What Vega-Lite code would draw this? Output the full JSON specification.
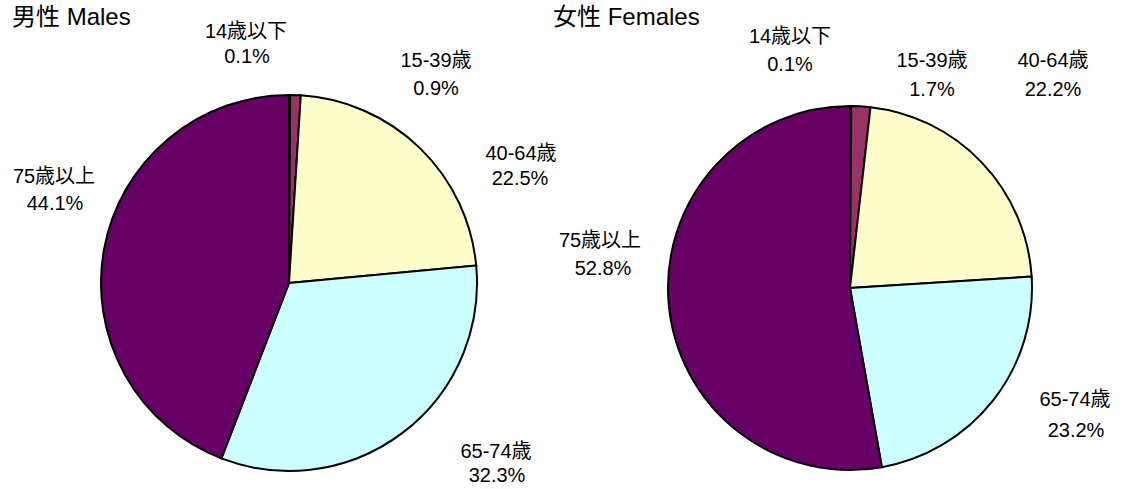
{
  "$schema": "https://vega.github.io/schema/vega-lite/v6.json",
  "padding": {"left": 0, "top": 6, "right": 0, "bottom": 0},
  "spacing": 0,
  "bounds": "flush",
  "background": "white",
  "config": {
    "view": {"stroke": null},
    "title": {"anchor": "start", "frame": "group", "fontSize": 24, "fontWeight": "normal", "font": "Liberation Sans, Noto Sans CJK JP", "color": "black"},
    "text": {"font": "Liberation Sans, Noto Sans CJK JP", "fontSize": 20, "align": "center", "baseline": "middle", "color": "black", "radius": 0}
  },
  "datasets": {
    "males": [
      {"age": "14歳以下", "share": 0.001},
      {"age": "15-39歳", "share": 0.009},
      {"age": "40-64歳", "share": 0.225},
      {"age": "65-74歳", "share": 0.323},
      {"age": "75歳以上", "share": 0.441}
    ],
    "females": [
      {"age": "14歳以下", "share": 0.001},
      {"age": "15-39歳", "share": 0.017},
      {"age": "40-64歳", "share": 0.222},
      {"age": "65-74歳", "share": 0.232},
      {"age": "75歳以上", "share": 0.528}
    ]
  },
  "hconcat": [
    {
      "width": 578,
      "height": 392,
      "title": {"text": "男性 Males", "dx": 12, "offset": -8.5},
      "data": {"name": "males"},
      "encoding": {
        "theta": {"field": "share", "type": "quantitative", "stack": true},
        "order": {"field": "age", "sort": "ascending"}
      },
      "layer": [
        {
          "mark": {"type": "arc", "outerRadius": 188, "stroke": "black", "strokeWidth": 2},
          "encoding": {
            "color": {"field": "age", "type": "nominal", "legend": null,
              "scale": {"domain": ["14歳以下", "15-39歳", "40-64歳", "65-74歳", "75歳以上"], "range": ["#9999FF", "#993366", "#FFFFCC", "#CCFFFF", "#660066"]}}
          }
        },
        {"mark": {"type": "text", "dx": -43, "dy": -251.5}, "encoding": {"text": {"condition": {"test": "datum.age === '14歳以下'", "field": "age", "type": "nominal"}, "value": ""}}},
        {"mark": {"type": "text", "dx": -42, "dy": -226}, "encoding": {"text": {"condition": {"test": "datum.age === '14歳以下'", "field": "share", "type": "quantitative", "format": ".1%"}, "value": ""}}},
        {"mark": {"type": "text", "dx": 147, "dy": -222}, "encoding": {"text": {"condition": {"test": "datum.age === '15-39歳'", "field": "age", "type": "nominal"}, "value": ""}}},
        {"mark": {"type": "text", "dx": 147, "dy": -194}, "encoding": {"text": {"condition": {"test": "datum.age === '15-39歳'", "field": "share", "type": "quantitative", "format": ".1%"}, "value": ""}}},
        {"mark": {"type": "text", "dx": 232, "dy": -129.5}, "encoding": {"text": {"condition": {"test": "datum.age === '40-64歳'", "field": "age", "type": "nominal"}, "value": ""}}},
        {"mark": {"type": "text", "dx": 231, "dy": -104.5}, "encoding": {"text": {"condition": {"test": "datum.age === '40-64歳'", "field": "share", "type": "quantitative", "format": ".1%"}, "value": ""}}},
        {"mark": {"type": "text", "dx": 207, "dy": 169}, "encoding": {"text": {"condition": {"test": "datum.age === '65-74歳'", "field": "age", "type": "nominal"}, "value": ""}}},
        {"mark": {"type": "text", "dx": 208, "dy": 193}, "encoding": {"text": {"condition": {"test": "datum.age === '65-74歳'", "field": "share", "type": "quantitative", "format": ".1%"}, "value": ""}}},
        {"mark": {"type": "text", "dx": -235, "dy": -106.5}, "encoding": {"text": {"condition": {"test": "datum.age === '75歳以上'", "field": "age", "type": "nominal"}, "value": ""}}},
        {"mark": {"type": "text", "dx": -234, "dy": -79}, "encoding": {"text": {"condition": {"test": "datum.age === '75歳以上'", "field": "share", "type": "quantitative", "format": ".1%"}, "value": ""}}}
      ]
    },
    {
      "width": 544,
      "height": 402,
      "title": {"text": "女性 Females", "dx": -25, "offset": -3.5},
      "data": {"name": "females"},
      "encoding": {
        "theta": {"field": "share", "type": "quantitative", "stack": true},
        "order": {"field": "age", "sort": "ascending"}
      },
      "layer": [
        {
          "mark": {"type": "arc", "outerRadius": 182, "stroke": "black", "strokeWidth": 2},
          "encoding": {
            "color": {"field": "age", "type": "nominal", "legend": null,
              "scale": {"domain": ["14歳以下", "15-39歳", "40-64歳", "65-74歳", "75歳以上"], "range": ["#9999FF", "#993366", "#FFFFCC", "#CCFFFF", "#660066"]}}
          }
        },
        {"mark": {"type": "text", "dx": -60, "dy": -251.5}, "encoding": {"text": {"condition": {"test": "datum.age === '14歳以下'", "field": "age", "type": "nominal"}, "value": ""}}},
        {"mark": {"type": "text", "dx": -60, "dy": -223}, "encoding": {"text": {"condition": {"test": "datum.age === '14歳以下'", "field": "share", "type": "quantitative", "format": ".1%"}, "value": ""}}},
        {"mark": {"type": "text", "dx": 82, "dy": -227}, "encoding": {"text": {"condition": {"test": "datum.age === '15-39歳'", "field": "age", "type": "nominal"}, "value": ""}}},
        {"mark": {"type": "text", "dx": 82, "dy": -198}, "encoding": {"text": {"condition": {"test": "datum.age === '15-39歳'", "field": "share", "type": "quantitative", "format": ".1%"}, "value": ""}}},
        {"mark": {"type": "text", "dx": 203, "dy": -227}, "encoding": {"text": {"condition": {"test": "datum.age === '40-64歳'", "field": "age", "type": "nominal"}, "value": ""}}},
        {"mark": {"type": "text", "dx": 203, "dy": -198}, "encoding": {"text": {"condition": {"test": "datum.age === '40-64歳'", "field": "share", "type": "quantitative", "format": ".1%"}, "value": ""}}},
        {"mark": {"type": "text", "dx": 225, "dy": 112}, "encoding": {"text": {"condition": {"test": "datum.age === '65-74歳'", "field": "age", "type": "nominal"}, "value": ""}}},
        {"mark": {"type": "text", "dx": 226, "dy": 143}, "encoding": {"text": {"condition": {"test": "datum.age === '65-74歳'", "field": "share", "type": "quantitative", "format": ".1%"}, "value": ""}}},
        {"mark": {"type": "text", "dx": -250, "dy": -47}, "encoding": {"text": {"condition": {"test": "datum.age === '75歳以上'", "field": "age", "type": "nominal"}, "value": ""}}},
        {"mark": {"type": "text", "dx": -247, "dy": -19}, "encoding": {"text": {"condition": {"test": "datum.age === '75歳以上'", "field": "share", "type": "quantitative", "format": ".1%"}, "value": ""}}}
      ]
    }
  ]
}
